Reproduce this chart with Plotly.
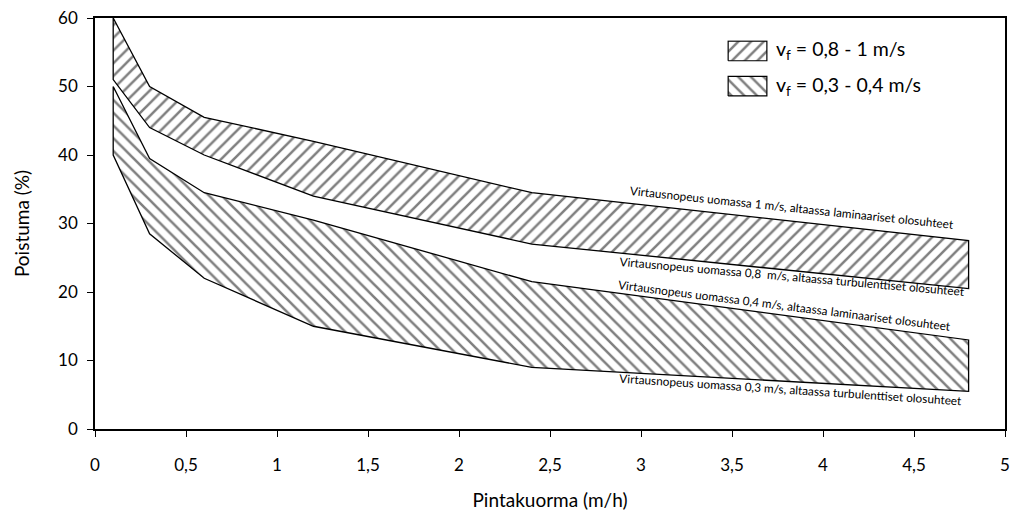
import plotly.graph_objects as go

# Surface load (m/h) at which the removal bands were evaluated
pintakuorma = [0.1, 0.3, 0.6, 1.2, 2.4, 4.8]

# Removal (%) band limits
nopea_ylaraja = [60, 50, 45.5, 42, 34.5, 27.5]   # 1 m/s, laminar
nopea_alaraja = [51, 44, 40, 34, 27, 20.5]       # 0.8 m/s, turbulent
hidas_ylaraja = [50, 39.5, 34.5, 30.5, 21.5, 13]  # 0.4 m/s, laminar
hidas_alaraja = [40, 28.5, 22, 15, 9, 5.5]       # 0.3 m/s, turbulent

sarjat = ["v<sub>f</sub> = 0,8 - 1 m/s", "v<sub>f</sub> = 0,3 - 0,4 m/s"]

x_tickvals = [0, 0.5, 1, 1.5, 2, 2.5, 3, 3.5, 4, 4.5, 5]
x_ticktext = ["0", "0,5", "1", "1,5", "2", "2,5", "3", "3,5", "4", "4,5", "5"]
y_tickvals = [0, 10, 20, 30, 40, 50, 60]

FONT = "Lato"
HATCH = dict(size=9, solidity=0.28, fgcolor="black", bgcolor="white")


def hatched(xs, ys, shape, xaxis="x", yaxis="y", width=1.3):
    return go.Scatter(
        x=xs, y=ys, mode="lines", xaxis=xaxis, yaxis=yaxis,
        line=dict(color="black", width=width),
        fill="toself", fillcolor="white",
        fillpattern=dict(shape=shape, **HATCH),
        hoverinfo="skip", showlegend=False,
    )


def band(top, bottom, shape):
    xs = pintakuorma + pintakuorma[::-1] + [pintakuorma[0]]
    ys = top + bottom[::-1] + [top[0]]
    return hatched(xs, ys, shape)


fig = go.Figure()
fig.add_trace(band(nopea_ylaraja, nopea_alaraja, "/"))
fig.add_trace(band(hidas_ylaraja, hidas_alaraja, "\\"))

# Key: hatched boxes on a small hidden overlay axis, labels as annotations
key_rows = [(sarjat[0], "/", 1.8, 0.922), (sarjat[1], "\\", 0.0, 0.835)]
for name, shape, y0, ty in key_rows:
    fig.add_trace(hatched([0, 1, 1, 0, 0], [y0, y0, y0 + 1, y0 + 1, y0],
                          shape, xaxis="x2", yaxis="y2", width=1.2))
    fig.add_annotation(xref="paper", yref="paper", x=0.746, y=ty,
                       text=name, showarrow=False, xanchor="left",
                       yanchor="middle",
                       font=dict(family=FONT, size=19.5, color="black"))

labels = [
    ("Virtausnopeus uomassa 1 m/s, altaassa laminaariset olosuhteet", 3.83, 32.3, 6.0),
    ("Virtausnopeus uomassa 0,8  m/s, altaassa turbulenttiset olosuhteet", 3.83, 22.2, 5.0),
    ("Virtausnopeus uomassa 0,4 m/s, altaassa laminaariset olosuhteet", 3.79, 18.1, 7.2),
    ("Virtausnopeus uomassa 0,3 m/s, altaassa turbulenttiset olosuhteet", 3.82, 5.7, 3.8),
]
for text, lx, ly, ang in labels:
    fig.add_annotation(x=lx, y=ly, text=text, showarrow=False,
                       textangle=ang, xanchor="center", yanchor="middle",
                       font=dict(family=FONT, size=11.8, color="black"))

axis_common = dict(
    showgrid=False, zeroline=False, showline=True, linecolor="black",
    linewidth=1.5, mirror=True, ticks="outside", ticklen=6,
    tickcolor="black", tickwidth=1.2, automargin=False,
    tickfont=dict(family=FONT, size=17, color="black"),
)

fig.update_layout(
    width=1015, height=513,
    margin=dict(l=95, r=10, t=18, b=84),
    paper_bgcolor="white", plot_bgcolor="white",
    font=dict(family=FONT, color="black"),
    showlegend=False,
    xaxis=dict(range=[0, 5], tickvals=x_tickvals, ticktext=x_ticktext,
               ticklabelstandoff=14,
               title=dict(text="Pintakuorma (m/h)", standoff=20,
                          font=dict(family=FONT, size=19)),
               **axis_common),
    yaxis=dict(range=[0, 60], tickvals=y_tickvals, ticklabelstandoff=6,
               title=dict(text="Poistuma (%)", standoff=23,
                          font=dict(family=FONT, size=19)),
               **axis_common),
    xaxis2=dict(domain=[0.6945, 0.7396], range=[-0.03, 1.03], anchor="y2",
                visible=False, fixedrange=True),
    yaxis2=dict(domain=[0.808, 0.946], range=[-0.05, 2.85], anchor="x2",
                visible=False, fixedrange=True),
)

fig.write_html("out.html")
